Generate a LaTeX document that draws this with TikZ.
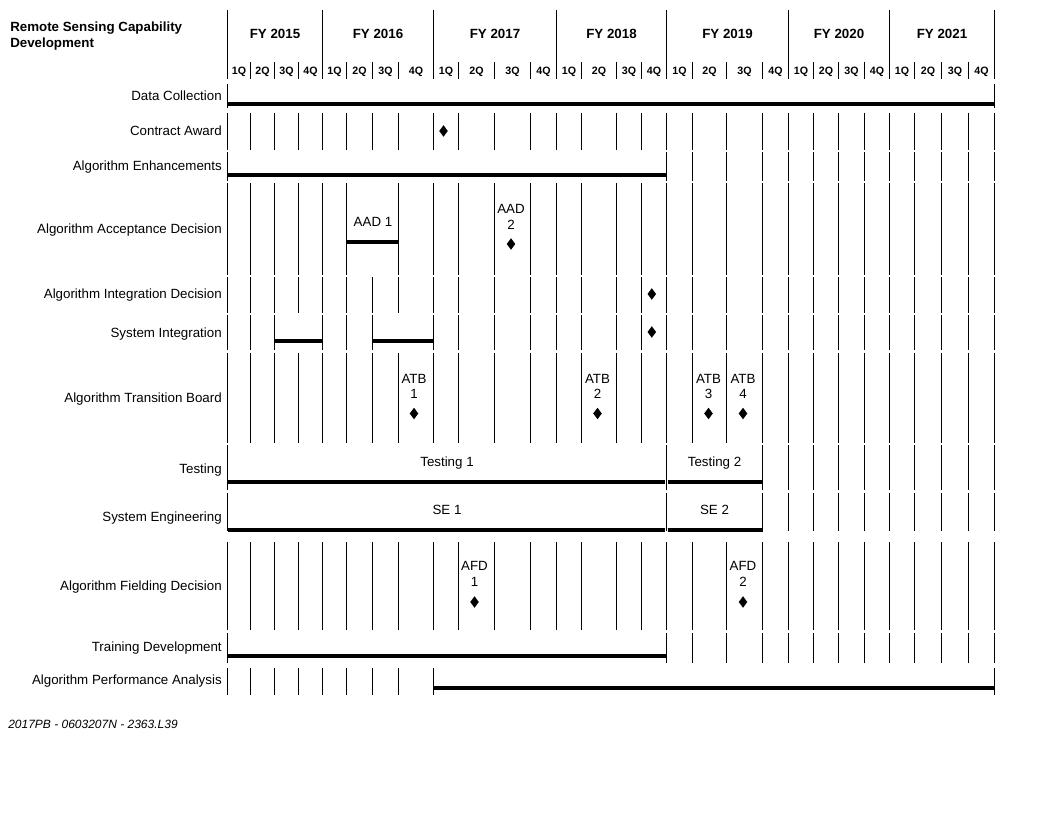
\documentclass[tikz,border=0pt]{standalone}
\usepackage{fontspec}
\setmainfont{Liberation Sans}
\usetikzlibrary{shapes.geometric}
\begin{document}
\begin{tikzpicture}[x=0.75pt,y=-0.75pt,
  vline/.style={line width=1.1pt},
  bar/.style={line width=2.9pt},
  rowlabel/.style={anchor=base east,inner sep=0pt,font=\fontsize{10}{12}\selectfont},
  yearlabel/.style={anchor=base,inner sep=0pt,font=\bfseries\fontsize{10}{12}\selectfont},
  qlabel/.style={anchor=base,inner sep=0pt,font=\bfseries\fontsize{8}{9}\selectfont},
  txt/.style={anchor=base,inner sep=0pt,font=\fontsize{10}{12}\selectfont},
  milestone/.style={diamond,fill=black,draw=none,inner sep=0pt,minimum width=6.6pt,minimum height=8.8pt}]
\useasboundingbox (0,0) rectangle (1056,816);
% quarter line positions
\def\allx{227.5,250.5,274.5,298.5,322.5,346.5,372.5,398.5,433.5,458.5,494.5,530.5,556.5,581.5,616.5,641.5,666.5,692.5,726.5,762.5,788.5,813.5,838.5,864.5,889.5,914.5,941.5,968.5,994.5}
\def\afterx{666.5,692.5,726.5,762.5,788.5,813.5,838.5,864.5,889.5,914.5,941.5,968.5,994.5}
% ---------- header ----------
\node[anchor=base west,inner sep=0pt,font=\bfseries\fontsize{10}{12}\selectfont] (title1) at (10,31.5) {Remote Sensing Capability};
\node[anchor=base west,inner sep=0pt,font=\bfseries\fontsize{10}{12}\selectfont] (title2) at (10,47.5) {Development};
\foreach \x in {227.5,322.5,433.5,556.5,666.5,788.5,889.5,994.5}
  \draw[vline] (\x,10) -- (\x,62);
\foreach \x in \allx
  \draw[vline] (\x,62) -- (\x,79);
\node[yearlabel] (fy15) at (275,38.5) {FY 2015};
\node[yearlabel] (fy16) at (378,38.5) {FY 2016};
\node[yearlabel] (fy17) at (495,38.5) {FY 2017};
\node[yearlabel] (fy18) at (611.5,38.5) {FY 2018};
\node[yearlabel] (fy19) at (727.5,38.5) {FY 2019};
\node[yearlabel] (fy20) at (839,38.5) {FY 2020};
\node[yearlabel] (fy21) at (942,38.5) {FY 2021};
% quarter labels
\foreach \a/\b/\q [count=\i] in {227.5/250.5/1Q,250.5/274.5/2Q,274.5/298.5/3Q,298.5/322.5/4Q,
  322.5/346.5/1Q,346.5/372.5/2Q,372.5/398.5/3Q,398.5/433.5/4Q,
  433.5/458.5/1Q,458.5/494.5/2Q,494.5/530.5/3Q,530.5/556.5/4Q,
  556.5/581.5/1Q,581.5/616.5/2Q,616.5/641.5/3Q,641.5/666.5/4Q,
  666.5/692.5/1Q,692.5/726.5/2Q,726.5/762.5/3Q,762.5/788.5/4Q,
  788.5/813.5/1Q,813.5/838.5/2Q,838.5/864.5/3Q,864.5/889.5/4Q,
  889.5/914.5/1Q,914.5/941.5/2Q,941.5/968.5/3Q,968.5/994.5/4Q}
  \node[qlabel] (q\i) at ({(\a+\b)/2},74.8) {\q};
% ---------- Data Collection ----------
\node[rowlabel] (dc) at (222,100.5) {Data Collection};
\foreach \x in {227.5,994.5} \draw[vline] (\x,84) -- (\x,108);
\coordinate (dcA) at (227.5,104);
\coordinate (dcB) at (994.5,104);
\draw[bar] (dcA) -- (dcB);
% ---------- Contract Award ----------
\node[rowlabel] (ca) at (222,135.5) {Contract Award};
\foreach \x in \allx \draw[vline] (\x,113) -- (\x,150);
\node[milestone] (caM) at (443.5,131) {};
% ---------- Algorithm Enhancements ----------
\node[rowlabel] (ae) at (222,170.5) {Algorithm Enhancements};
\foreach \x in {227.5} \draw[vline] (\x,152) -- (\x,181);
\foreach \x in \afterx \draw[vline] (\x,152) -- (\x,181);
\coordinate (aeA) at (227.5,175);
\coordinate (aeB) at (666.5,175);
\draw[bar] (aeA) -- (aeB);
% ---------- Algorithm Acceptance Decision ----------
\node[rowlabel] (aad) at (222,233.5) {Algorithm Acceptance Decision};
\foreach \x in {227.5,250.5,274.5,298.5,322.5,346.5,398.5,433.5,458.5,494.5,530.5,556.5,581.5,616.5,641.5}
  \draw[vline] (\x,183) -- (\x,275);
\foreach \x in \afterx \draw[vline] (\x,183) -- (\x,275);
\node[txt] (aad1) at (373,226.5) {AAD 1};
\coordinate (aad1A) at (346.5,242);
\coordinate (aad1B) at (398.5,242);
\draw[bar] (aad1A) -- (aad1B);
\node[txt] (aad2t) at (511,213.5) {AAD};
\node[txt] (aad2n) at (511,229.5) {2};
\node[milestone] (aad2M) at (511,244) {};
% ---------- Algorithm Integration Decision ----------
\node[rowlabel] (aid) at (222,298.5) {Algorithm Integration Decision};
\foreach \x in \allx \draw[vline] (\x,277) -- (\x,313);
\node[milestone] (aidM) at (651.8,294) {};
% ---------- System Integration ----------
\node[rowlabel] (si) at (222,337.5) {System Integration};
\foreach \x in {227.5,250.5,274.5,322.5,346.5,372.5,433.5,458.5,494.5,530.5,556.5,581.5,616.5,641.5}
  \draw[vline] (\x,315) -- (\x,350);
\foreach \x in \afterx \draw[vline] (\x,315) -- (\x,350);
\coordinate (siA) at (274.5,341);
\coordinate (siB) at (322.5,341);
\coordinate (siC) at (372.5,341);
\coordinate (siD) at (433.5,341);
\draw[bar] (siA) -- (siB);
\draw[bar] (siC) -- (siD);
\node[milestone] (siM) at (651.8,332) {};
% ---------- Algorithm Transition Board ----------
\node[rowlabel] (atb) at (222,402.5) {Algorithm Transition Board};
\foreach \x in \allx \draw[vline] (\x,353) -- (\x,443);
\node[txt] (atb1t) at (414,383.5) {ATB};
\node[txt] (atb1n) at (414,398.5) {1};
\node[milestone] (atb1M) at (414,413.5) {};
\node[txt] (atb2t) at (597.5,383.5) {ATB};
\node[txt] (atb2n) at (597.5,398.5) {2};
\node[milestone] (atb2M) at (597.5,413.5) {};
\node[txt] (atb3t) at (708.5,383.5) {ATB};
\node[txt] (atb3n) at (708.5,398.5) {3};
\node[milestone] (atb3M) at (708.5,413.5) {};
\node[txt] (atb4t) at (743,383.5) {ATB};
\node[txt] (atb4n) at (743,398.5) {4};
\node[milestone] (atb4M) at (743,413.5) {};
% ---------- Testing ----------
\node[rowlabel] (tst) at (222,473.5) {Testing};
\foreach \x in {227.5,666.5,762.5,788.5,813.5,838.5,864.5,889.5,914.5,941.5,968.5,994.5}
  \draw[vline] (\x,445) -- (\x,490);
\node[txt] (tst1) at (447,466.5) {Testing 1};
\node[txt] (tst2) at (714.5,466.5) {Testing 2};
\coordinate (tstA) at (227.5,482);
\coordinate (tstB) at (665.4,482);
\coordinate (tstC) at (667.6,482);
\coordinate (tstD) at (762.5,482);
\draw[bar] (tstA) -- (tstB);
\draw[bar] (tstC) -- (tstD);
% ---------- System Engineering ----------
\node[rowlabel] (se) at (222,521.5) {System Engineering};
\foreach \x in {227.5,666.5,762.5,788.5,813.5,838.5,864.5,889.5,914.5,941.5,968.5,994.5}
  \draw[vline] (\x,493) -- (\x,531);
\node[txt] (se1) at (447,514.5) {SE 1};
\node[txt] (se2) at (714.5,514.5) {SE 2};
\coordinate (seA) at (227.5,530);
\coordinate (seB) at (665.4,530);
\coordinate (seC) at (667.6,530);
\coordinate (seD) at (762.5,530);
\draw[bar] (seA) -- (seB);
\draw[bar] (seC) -- (seD);
% ---------- Algorithm Fielding Decision ----------
\node[rowlabel] (afd) at (222,590.5) {Algorithm Fielding Decision};
\foreach \x in \allx \draw[vline] (\x,542) -- (\x,630);
\node[txt] (afd1t) at (474.5,570.5) {AFD};
\node[txt] (afd1n) at (474.5,586.5) {1};
\node[milestone] (afd1M) at (474.5,602) {};
\node[txt] (afd2t) at (743,570.5) {AFD};
\node[txt] (afd2n) at (743,586.5) {2};
\node[milestone] (afd2M) at (743,602) {};
% ---------- Training Development ----------
\node[rowlabel] (trn) at (222,651.5) {Training Development};
\foreach \x in {227.5} \draw[vline] (\x,633) -- (\x,663);
\foreach \x in \afterx \draw[vline] (\x,633) -- (\x,663);
\coordinate (trnA) at (227.5,656);
\coordinate (trnB) at (666.5,656);
\draw[bar] (trnA) -- (trnB);
% ---------- Algorithm Performance Analysis ----------
\node[rowlabel] (apa) at (222,684.5) {Algorithm Performance Analysis};
\foreach \x in {227.5,250.5,274.5,298.5,322.5,346.5,372.5,398.5,433.5,994.5}
  \draw[vline] (\x,668) -- (\x,695);
\coordinate (apaA) at (433.5,688);
\coordinate (apaB) at (994.5,688);
\draw[bar] (apaA) -- (apaB);
% ---------- footer ----------
\node[anchor=base west,inner sep=0pt,font=\itshape\fontsize{9}{11}\selectfont] (foot) at (8,728.3) {2017PB - 0603207N - 2363.L39};
\end{tikzpicture}
\end{document}
